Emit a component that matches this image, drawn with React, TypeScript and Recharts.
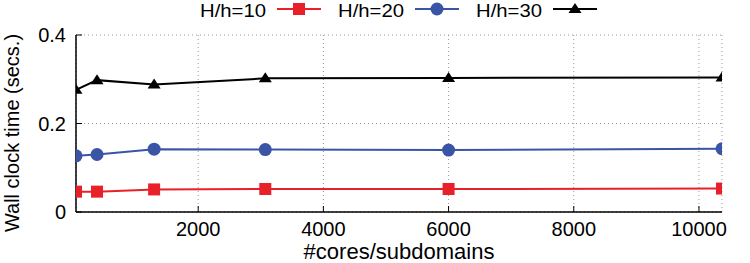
import { CartesianGrid, Legend, Line, LineChart, XAxis, YAxis } from 'recharts'

// wall clock time (secs.) per core count, one series per H/h ratio
const CORES = [48, 384, 1296, 3072, 6000, 10368]
const H10 = [0.046, 0.046, 0.051, 0.052, 0.052, 0.053]
const H20 = [0.127, 0.13, 0.142, 0.141, 0.14, 0.143]
const H30 = [0.276, 0.298, 0.288, 0.302, 0.303, 0.304]

const X_TICKS = [2000, 4000, 6000, 8000, 10000]
const Y_TICKS = [0, 0.2, 0.4]

const FONT = '"Liberation Sans", Arial, Helvetica, sans-serif'

const SERIES = [
  { key: 'h10', name: 'H/h=10', color: '#e8202a', shape: 'square' },
  { key: 'h20', name: 'H/h=20', color: '#3a55a6', shape: 'circle' },
  { key: 'h30', name: 'H/h=30', color: '#000000', shape: 'triangle' },
]

const rows = CORES.map((c, i) => ({ cores: c, h10: H10[i], h20: H20[i], h30: H30[i] }))

function marker(shape: string, cx: number, cy: number, color: string, key?: string) {
  if (shape === 'square') return <rect key={key} x={cx - 6} y={cy - 6} width={12} height={12} fill={color} />
  if (shape === 'circle') return <circle key={key} cx={cx} cy={cy} r={6.5} fill={color} />
  return <polygon key={key} points={`${cx},${cy - 6} ${cx + 6.5},${cy + 4} ${cx - 6.5},${cy + 4}`} fill={color} />
}

const dotFor = (shape: string, color: string) => (p: any) =>
  p.cx == null ? <g key={p.key} /> : marker(shape, p.cx, p.cy, color, p.key)

// gnuplot-style key: label first, then line sample with its marker
function KeyRow() {
  return (
    <svg width={750} height={24} style={{ display: 'block' }}>
      {SERIES.map((s, i) => {
        const x0 = 200 + i * 138
        return (
          <g key={s.key}>
            <text
              x={x0}
              y={17}
              fontSize={18}
              textLength={66}
              lengthAdjust="spacingAndGlyphs"
              fontFamily={FONT}
              fill="#000"
            >
              {s.name}
            </text>
            <line x1={x0 + 77} x2={x0 + 121} y1={9} y2={9} stroke={s.color} strokeWidth={2} />
            {marker(s.shape, x0 + 99, 9, s.color)}
          </g>
        )
      })}
    </svg>
  )
}

export default function App() {
  return (
    <div style={{ position: 'absolute', left: 0, top: 0 }}>
      <LineChart
        width={750}
        height={263}
        data={rows}
        margin={{ top: 35, right: 28, bottom: 0, left: 0 }}
        style={{ fontFamily: FONT, background: '#fff' }}
      >
        <CartesianGrid stroke="#999" strokeDasharray="1 3" />
        <XAxis
          dataKey="cores"
          type="number"
          domain={[48, 10368]}
          ticks={X_TICKS}
          interval={0}
          allowDataOverflow
          height={51}
          tickSize={-6}
          tickMargin={16}
          axisLine={{ stroke: '#000', strokeWidth: 1.5 }}
          tickLine={{ stroke: '#000' }}
          tick={{ fontSize: 20, fill: '#000' }}
          label={{ value: '#cores/subdomains', position: 'insideBottom', offset: 4, fontSize: 22, fill: '#000' }}
        />
        <XAxis
          xAxisId="top"
          orientation="top"
          type="number"
          domain={[48, 10368]}
          ticks={X_TICKS}
          interval={0}
          allowDataOverflow
          height={0}
          tickSize={-6}
          tick={false}
          axisLine={{ stroke: '#000', strokeWidth: 1.5 }}
          tickLine={{ stroke: '#000' }}
        />
        <YAxis
          type="number"
          domain={[0, 0.4]}
          ticks={Y_TICKS}
          interval={0}
          width={76}
          tickSize={-6}
          tickMargin={16}
          axisLine={{ stroke: '#000', strokeWidth: 1.5 }}
          tickLine={{ stroke: '#000' }}
          tick={{ fontSize: 20, fill: '#000' }}
          label={{
            content: () => (
              <text transform="translate(18.5 133) rotate(-90)" textAnchor="middle" fontSize={20} fontFamily={FONT} fill="#000">
                Wall clock time (secs.)
              </text>
            ),
          }}
        />
        <YAxis
          yAxisId="right"
          orientation="right"
          type="number"
          domain={[0, 0.4]}
          ticks={Y_TICKS}
          interval={0}
          width={0}
          tickSize={-6}
          tick={false}
          axisLine={{ stroke: '#000', strokeWidth: 1.5 }}
          tickLine={{ stroke: '#000' }}
        />
        <Legend
          verticalAlign="middle"
          wrapperStyle={{ top: 0, left: 0, width: 750, height: 24 }}
          content={() => <KeyRow />}
        />
        {SERIES.map((s) => (
          <Line
            key={s.key}
            dataKey={s.key}
            name={s.name}
            type="linear"
            stroke={s.color}
            strokeWidth={2}
            dot={dotFor(s.shape, s.color)}
            activeDot={false}
            isAnimationActive={false}
          />
        ))}
      </LineChart>
    </div>
  )
}
